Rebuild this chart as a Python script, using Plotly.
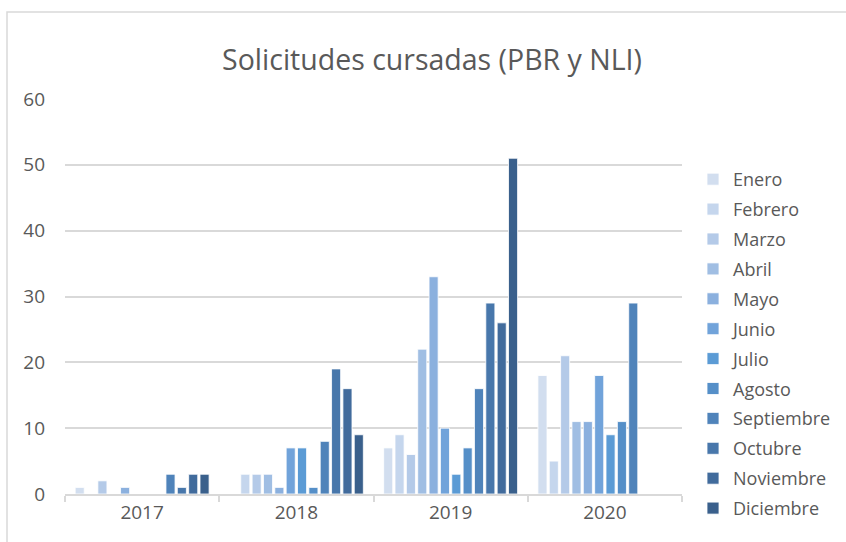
import plotly.graph_objects as go

years = ["2017", "2018", "2019", "2020"]
months = ["Enero", "Febrero", "Marzo", "Abril", "Mayo", "Junio", "Julio",
          "Agosto", "Septiembre", "Octubre", "Noviembre", "Diciembre"]

# values per month, one entry per year (2017, 2018, 2019, 2020)
enero = [1, 0, 7, 18]
febrero = [0, 3, 9, 5]
marzo = [2, 3, 6, 21]
abril = [0, 3, 22, 11]
mayo = [1, 1, 33, 11]
junio = [0, 7, 10, 18]
julio = [0, 7, 3, 9]
agosto = [0, 1, 7, 11]
septiembre = [3, 8, 16, 29]
octubre = [1, 19, 29, 0]
noviembre = [3, 16, 26, 0]
diciembre = [3, 9, 51, 0]

series = [enero, febrero, marzo, abril, mayo, junio, julio, agosto,
          septiembre, octubre, noviembre, diciembre]

colors = ["#D2DEEF", "#C5D6ED", "#B4CAE8", "#A0BEE3", "#8BB0DE", "#71A3DA",
          "#5B9BD5", "#558FC8", "#4F83BA", "#4877AB", "#416B9C", "#3A608C"]

FONT = "Open Sans"
GRAY = "#595959"

fig = go.Figure()
for name, vals, col in zip(months, series, colors):
    fig.add_trace(go.Bar(
        x=years, y=vals, name=name, legendgroup=name,
        marker=dict(color=col, line=dict(color="white", width=0.8)),
    ))

fig.update_layout(
    width=846, height=542,
    margin=dict(l=65, r=164, t=99, b=48, autoexpand=False),
    paper_bgcolor="white", plot_bgcolor="white",
    barmode="group", bargap=0.117, bargroupgap=0.2,
    font=dict(family=FONT, color=GRAY, size=16),
    title=dict(text="Solicitudes cursadas (PBR y NLI)", x=432 / 846, xref="container",
               xanchor="center", y=1 - 60 / 542, yref="container", yanchor="middle",
               font=dict(size=28.5, color=GRAY, family=FONT)),
    legend=dict(x=(693 - 65) / 617, xanchor="left", y=(494 - 344) / 395, yanchor="middle",
                font=dict(size=18, color=GRAY, family=FONT),
                tracegroupgap=3.5, itemwidth=30, traceorder="grouped",
                bgcolor="rgba(0,0,0,0)"),
    showlegend=True,
)
fig.update_yaxes(range=[0, 60], dtick=10, showgrid=True, gridcolor="#D9D9D9",
                 gridwidth=1.5, zeroline=False, showline=False,
                 tickfont=dict(size=19, color=GRAY), ticklabelstandoff=19)
fig.update_xaxes(showline=True, linecolor="#D9D9D9", linewidth=1.5,
                 ticks="outside", tickson="boundaries", ticklen=6,
                 tickcolor="#D9D9D9", tickwidth=1.5,
                 tickfont=dict(size=19, color=GRAY))

# chart border (partially cropped in the reference)
fig.add_shape(type="rect", xref="paper", yref="paper",
              x0=(7 - 65) / 617, x1=1.5, y0=-0.5, y1=1 + (99 - 12) / 395,
              line=dict(color="#D9D9D9", width=1.5), fillcolor="rgba(0,0,0,0)",
              layer="below")

fig.write_html("out.html", config={"displayModeBar": False},
               post_script="document.body.style.margin='0';")
